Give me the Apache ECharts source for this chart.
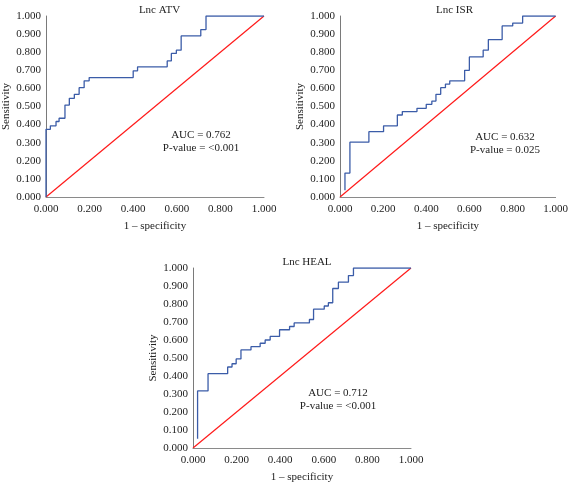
<!DOCTYPE html>
<html><head><meta charset="utf-8">
<script src="https://cdn.jsdelivr.net/npm/echarts@6/dist/echarts.min.js"></script>
<style>html,body{margin:0;padding:0;background:#fff}#c{width:571px;height:484px}</style>
</head><body><div id="c"></div>
<script>
// Lnc ATV
var fpr1 = [0, 0, 0.02, 0.046, 0.06, 0.087, 0.107, 0.13, 0.152, 0.175, 0.198, 0.40, 0.42, 0.556, 0.575, 0.598, 0.62, 0.71, 0.734, 1.0];
var tpr1 = [0, 0.374, 0.393, 0.417, 0.435, 0.508, 0.545, 0.567, 0.604, 0.642, 0.66, 0.697, 0.719, 0.752, 0.793, 0.811, 0.89, 0.925, 1.0, 1.0];
// Lnc ISR
var fpr2 = [0.023, 0.023, 0.046, 0.134, 0.202, 0.266, 0.289, 0.357, 0.40, 0.426, 0.445, 0.467, 0.489, 0.509, 0.578, 0.60, 0.664, 0.688, 0.752, 0.801, 0.847, 1.0];
var tpr2 = [0.037, 0.132, 0.303, 0.361, 0.393, 0.453, 0.472, 0.49, 0.512, 0.53, 0.567, 0.604, 0.624, 0.642, 0.70, 0.774, 0.811, 0.87, 0.945, 0.961, 1.0, 1.0];
// Lnc HEAL
var fpr3 = [0.021, 0.021, 0.069, 0.159, 0.179, 0.198, 0.22, 0.266, 0.308, 0.331, 0.354, 0.397, 0.443, 0.464, 0.534, 0.553, 0.602, 0.621, 0.641, 0.667, 0.713, 0.736, 1.0];
var tpr3 = [0.051, 0.317, 0.413, 0.45, 0.468, 0.495, 0.545, 0.563, 0.582, 0.6, 0.62, 0.657, 0.675, 0.695, 0.714, 0.771, 0.789, 0.807, 0.886, 0.921, 0.958, 1.0, 1.0];
var diagX = [0, 1];
var diagY = [0, 1];
var titles = ["Lnc ATV", "Lnc ISR", "Lnc HEAL"];
var aucTexts = ["AUC = 0.762\nP-value = <0.001", "AUC = 0.632\nP-value = 0.025", "AUC = 0.712\nP-value = <0.001"];
var xName = "1 \u2013 specificity";
var yName = "Sensitivity";

var FONT = "'Liberation Serif','DejaVu Serif',serif";
var grids = [
  {left: 45, top: 16, width: 219, height: 181},
  {left: 340, top: 16, width: 219, height: 181},
  {left: 193, top: 268, width: 218, height: 182}
];
var titleTops = [0, 0, 252];
var aucPos = [[201, 129], [505, 131], [338, 387]];
function zip(a, b) { return a.map(function (v, i) { return [v, b[i]]; }); }
var curves = [zip(fpr1, tpr1), zip(fpr2, tpr2), zip(fpr3, tpr3)];

var xAxes = [], yAxes = [], series = [], titleArr = [], graphics = [];
grids.forEach(function (g, i) {
  xAxes.push({
    gridIndex: i, type: 'value', min: 0, max: 1, interval: 0.2,
    name: xName, nameLocation: 'middle', nameGap: 24,
    nameTextStyle: {fontFamily: FONT, fontSize: 11, color: '#222'},
    axisLine: {show: true, lineStyle: {color: '#8a8a8a', width: 1}},
    axisTick: {show: false}, splitLine: {show: false},
    axisLabel: {fontFamily: FONT, fontSize: 11, color: '#222', margin: 7,
      formatter: function (v) { return v.toFixed(3); }}
  });
  yAxes.push({
    gridIndex: i, type: 'value', min: 0, max: 1, interval: 0.1,
    name: yName, nameLocation: 'middle', nameGap: 34, nameRotate: 90,
    nameTextStyle: {fontFamily: FONT, fontSize: 11, color: '#222'},
    axisLine: {show: true, lineStyle: {color: '#7a7a7a', width: 1}},
    axisTick: {show: false}, splitLine: {show: false},
    axisLabel: {fontFamily: FONT, fontSize: 11, color: '#222', margin: 5,
      formatter: function (v) { return v.toFixed(3); }}
  });
  series.push({
    type: 'line', xAxisIndex: i, yAxisIndex: i, data: zip(diagX, diagY),
    symbol: 'none', lineStyle: {color: '#ff1a1a', width: 1.2}, z: 2, silent: true
  });
  series.push({
    type: 'line', xAxisIndex: i, yAxisIndex: i, data: curves[i], step: 'end',
    symbol: 'none', lineStyle: {color: '#3b5ca8', width: 1.3}, z: 3, silent: true
  });
  titleArr.push({
    text: titles[i], left: g.left + g.width / 2, top: titleTops[i], textAlign: 'center',
    textStyle: {fontFamily: FONT, fontSize: 11, fontWeight: 'normal', color: '#222'}
  });
  graphics.push({type: 'text', x: aucPos[i][0], y: aucPos[i][1],
    style: {text: aucTexts[i], font: "11px " + FONT, fill: '#222', textAlign: 'center', lineHeight: 12.5}});
});

var chart = echarts.init(document.getElementById('c'), null, {renderer: 'canvas'});
chart.setOption({
  animation: false,
  backgroundColor: '#fff',
  title: titleArr,
  grid: grids,
  xAxis: xAxes,
  yAxis: yAxes,
  series: series,
  graphic: graphics
});
</script></body></html>
